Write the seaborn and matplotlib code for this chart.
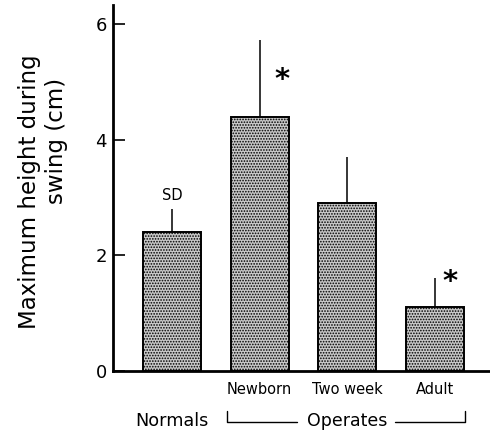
import matplotlib
matplotlib.use("Agg")
import matplotlib.pyplot as plt
import seaborn as sns
import pandas as pd

# ---- data ----
categories = ["Normals", "Newborn", "Two week", "Adult"]
tick_labels = ["", "Newborn", "Two week", "Adult"]
heights = [2.4, 4.4, 2.9, 1.1]
sd_tops = [2.8, 5.72, 3.7, 1.6]
significant = [False, True, False, True]
y_ticks = [0, 2, 4, 6]

sns.set_style("ticks")
plt.rcParams["font.family"] = ["DejaVu Sans"]
plt.rcParams["hatch.color"] = "#3a3a3a"
plt.rcParams["hatch.linewidth"] = 0.8
for k in ["text.color", "axes.labelcolor", "xtick.color", "ytick.color", "axes.edgecolor"]:
    plt.rcParams[k] = "black"

W, H = 490, 432
fig = plt.figure(figsize=(W / 100, H / 100), dpi=100)
ax_left, ax_right, ax_bottom, ax_top = 113, 490, 371, 5
ax = fig.add_axes([ax_left / W, (H - ax_bottom) / H,
                   (ax_right - ax_left) / W, (ax_bottom - ax_top) / H])

df = pd.DataFrame({"group": categories, "height": heights})
sns.barplot(data=df, x="group", y="height", ax=ax, width=0.66,
            color="#c8c8c8", edgecolor="black", linewidth=1.4,
            hatch="......", errorbar=None, zorder=2)

positions = list(range(len(categories)))
ax.vlines(positions, heights, sd_tops, color="black", linewidth=1.1, zorder=3)

ax.set_xlim(-0.673, 3.627)
ax.set_ylim(0, 6.33)
ax.set_yticks(y_ticks)
ax.set_yticklabels([str(t) for t in y_ticks], fontsize=13)
ax.set_xticks(positions)
ax.set_xticklabels(tick_labels, fontsize=10.5)
ax.tick_params(axis="y", direction="in", length=8.6, width=1.2, pad=4.3)
ax.tick_params(axis="x", length=0, pad=8)
ax.set_xlabel("")
ax.set_ylabel("")
for s in ["top", "right"]:
    ax.spines[s].set_visible(False)
for s in ["left", "bottom"]:
    ax.spines[s].set_linewidth(2)
    ax.spines[s].set_color("black")

# SD label and significance stars
ax.text(0, 3.04, "SD", ha="center", va="center", fontsize=10.5)
star_offsets = {1: (1.255, 5.03), 3: (3.171, 1.54)}
for i, sig in enumerate(significant):
    if sig:
        sx, sy = star_offsets[i]
        ax.text(sx, sy, "*", ha="center", va="center", fontsize=21, fontweight="bold")

# group labels row
trans = ax.get_xaxis_transform()
def fy(py):
    return (ax_bottom - py) / (ax_bottom - ax_top)

ax.text(0, fy(421), "Normals", ha="center", va="center", fontsize=12.7, transform=trans)
ax.text(2.0, fy(421), "Operates", ha="center", va="center", fontsize=12.5, transform=trans)
line_kw = dict(color="black", linewidth=1.0, clip_on=False, transform=trans)
ax.plot([0.627, 0.627, 1.426], [fy(411), fy(422), fy(422)], **line_kw)
ax.plot([2.544, 3.342, 3.342], [fy(422), fy(422), fy(411)], **line_kw)

# y label (two lines)
fig.text(30 / W, 1 - 192 / H, "Maximum height during", rotation=90,
         ha="center", va="center", fontsize=16.5)
fig.text(56 / W, 1 - 141 / H, "swing (cm)", rotation=90,
         ha="center", va="center", fontsize=16.5)

fig.savefig("out.png", dpi=100)
